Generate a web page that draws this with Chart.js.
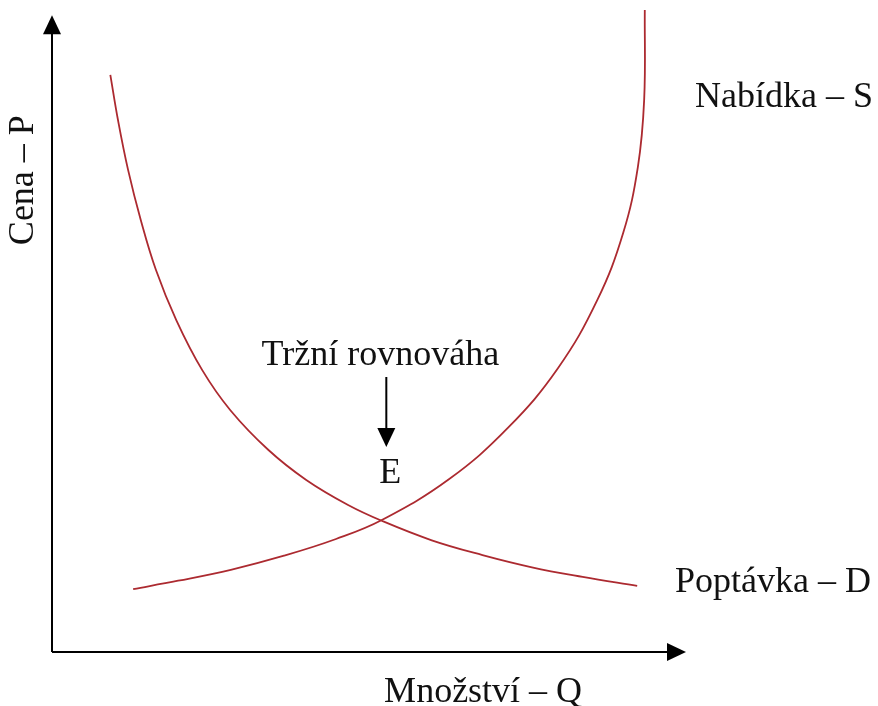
<!DOCTYPE html>
<html>
<head>
<meta charset="utf-8">
<script src="https://cdn.jsdelivr.net/npm/chart.js@4"></script>
<style>
  html, body { margin: 0; padding: 0; background: #fff; }
  canvas { display: block; }
</style>
</head>
<body>
<canvas id="chart" width="878" height="706"></canvas>
<script>
// demand curve (D) - quantity / price
const demandQ = [0.92, 1.04, 1.20, 1.40, 1.64, 1.96, 2.37, 2.81, 3.41, 4.01, 4.67, 5.21, 5.99, 6.79, 7.57, 8.37, 9.23];
const demandP = [8.99, 8.29, 7.51, 6.73, 5.95, 5.17, 4.39, 3.77, 3.15, 2.68, 2.29, 2.04, 1.74, 1.51, 1.32, 1.17, 1.03];

// supply curve (S)
const supplyQ = [1.28, 1.99, 2.82, 3.66, 4.48, 5.21, 6.26, 7.19, 7.98, 8.60, 9.01, 9.24, 9.34, 9.35];
const supplyP = [0.98, 1.11, 1.28, 1.50, 1.76, 2.06, 2.69, 3.49, 4.42, 5.48, 6.53, 7.55, 8.60, 10.0];

// equilibrium point E
const eqQ = 5.21;
const eqP = 2.05;

const labels = {
    supply: "Nabídka – S",
    demand: "Poptávka – D",
    eq: "Tržní rovnováha",
    point: "E",
    xTitle: "Množství – Q",
    yTitle: "Cena – P"
};

const curveColor = "rgb(172,42,48)";
const font = "36px 'Liberation Serif', 'Times New Roman', serif";

function toPoints(xs, ys) {
    return xs.map((x, i) => ({ x: x, y: ys[i] }));
}

function arrowHead(ctx, tipX, tipY, dir, len, half) {
    ctx.beginPath();
    if (dir === "up") {
        ctx.moveTo(tipX, tipY);
        ctx.lineTo(tipX - half, tipY + len);
        ctx.lineTo(tipX + half, tipY + len);
    } else if (dir === "down") {
        ctx.moveTo(tipX, tipY);
        ctx.lineTo(tipX - half, tipY - len);
        ctx.lineTo(tipX + half, tipY - len);
    } else {
        ctx.moveTo(tipX, tipY);
        ctx.lineTo(tipX - len, tipY - half);
        ctx.lineTo(tipX - len, tipY + half);
    }
    ctx.closePath();
    ctx.fill();
}

// axes with arrows drawn under the curves
const axesPlugin = {
    id: "axes",
    beforeDatasetsDraw(chart) {
        const ctx = chart.ctx;
        const xs = chart.scales.x, ys = chart.scales.y;
        const x0 = xs.getPixelForValue(0), y0 = ys.getPixelForValue(0);
        const yTip = ys.getPixelForValue(9.92);
        const xTip = xs.getPixelForValue(10);
        ctx.save();
        ctx.strokeStyle = "#000";
        ctx.fillStyle = "#000";
        ctx.lineWidth = 2;
        ctx.beginPath();
        ctx.moveTo(x0, y0);
        ctx.lineTo(x0, yTip + 10);
        ctx.moveTo(x0, y0);
        ctx.lineTo(xTip - 10, y0);
        ctx.stroke();
        arrowHead(ctx, x0, yTip, "up", 19, 9);
        arrowHead(ctx, xTip, y0, "right", 19, 9);
        ctx.restore();
    },
    afterDraw(chart) {
        const ctx = chart.ctx;
        const xs = chart.scales.x, ys = chart.scales.y;
        const area = chart.chartArea;
        ctx.save();
        ctx.fillStyle = "#111";
        ctx.strokeStyle = "#000";
        ctx.font = font;
        ctx.textBaseline = "alphabetic";

        // curve labels at right
        ctx.textAlign = "left";
        ctx.fillText(labels.supply, area.right + 9, 107);
        ctx.fillText(labels.demand, area.right - 11, 592);

        // equilibrium label + arrow + E
        const ex = xs.getPixelForValue(eqQ);
        ctx.textAlign = "center";
        ctx.fillText(labels.eq, ex - 2, 365);
        ctx.lineWidth = 2;
        ctx.beginPath();
        ctx.moveTo(ex + 4, 377);
        ctx.lineTo(ex + 4, 432);
        ctx.stroke();
        ctx.fillStyle = "#000";
        arrowHead(ctx, ex + 4, 447, "down", 19, 9);
        ctx.fillStyle = "#111";
        ctx.fillText(labels.point, ex + 8, 483);

        // axis titles
        ctx.fillText(labels.xTitle, xs.getPixelForValue(6.80), 702);
        ctx.translate(33, ys.getPixelForValue(7.35));
        ctx.rotate(-Math.PI / 2);
        ctx.fillText(labels.yTitle, 0, 0);
        ctx.restore();
    }
};

new Chart(document.getElementById("chart"), {
    type: "scatter",
    data: {
        datasets: [
            {
                label: "Poptávka – D",
                data: toPoints(demandQ, demandP),
                showLine: true,
                borderColor: curveColor,
                borderWidth: 1.8,
                pointRadius: 0,
                tension: 0.4
            },
            {
                label: "Nabídka – S",
                data: toPoints(supplyQ, supplyP),
                showLine: true,
                borderColor: curveColor,
                borderWidth: 1.8,
                pointRadius: 0,
                tension: 0.4
            }
        ]
    },
    options: {
        responsive: false,
        animation: false,
        devicePixelRatio: 1,
        clip: false,
        layout: { padding: { left: 52, right: 192, top: 10, bottom: 54 } },
        plugins: { legend: { display: false }, tooltip: { enabled: false } },
        scales: {
            x: { type: "linear", min: 0, max: 10, display: false },
            y: { type: "linear", min: 0, max: 10, display: false }
        }
    },
    plugins: [axesPlugin]
});
</script>
</body>
</html>
